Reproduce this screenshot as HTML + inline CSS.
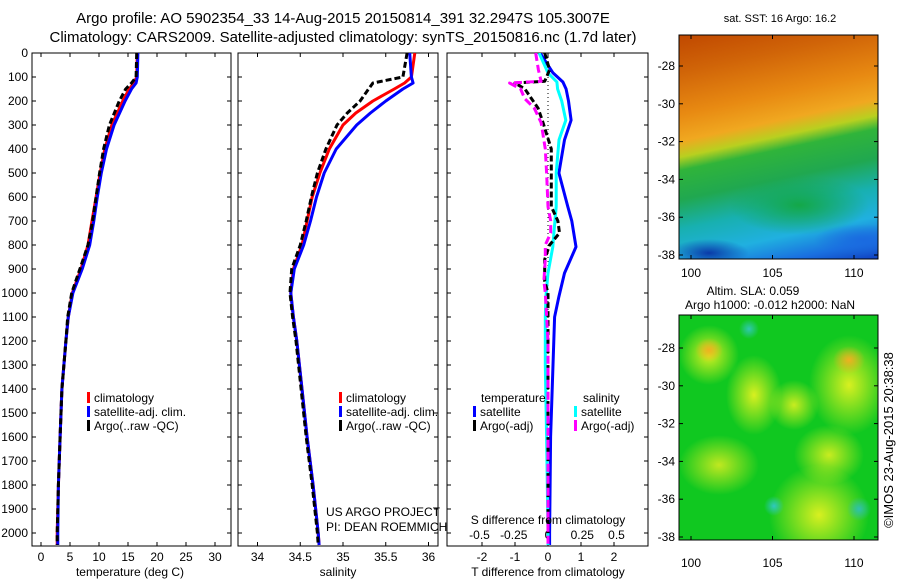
<!DOCTYPE html>
<html><head><meta charset="utf-8">
<style>
body{margin:0;background:#fff;}
#wrap{position:relative;width:900px;height:580px;overflow:hidden;font-family:"Liberation Sans",sans-serif;}
svg text{font-family:"Liberation Sans",sans-serif;fill:#000;}
.map{position:absolute;}
</style></head><body>
<div id="wrap">
<div class="map" style="left:679px;top:35px;width:199px;height:224px;background:
radial-gradient(ellipse 40px 14px at 30px 218px,#0a3aa8,rgba(10,58,168,0)),
radial-gradient(ellipse 50px 16px at 185px 205px,#1a6ae0,rgba(26,106,224,0)),
radial-gradient(ellipse 70px 30px at 120px 170px,#14a848,rgba(20,168,72,0)),
linear-gradient(168deg,#c04800 0%,#d06408 14%,#e88a12 30%,#f0a820 40%,#b8d020 46%,#30b43a 51%,#20a850 62%,#18b0b0 73%,#20b0e0 84%,#1a70e0 93%,#1040c0 100%);"></div>
<div class="map" style="left:679px;top:315px;width:199px;height:225px;background:
radial-gradient(circle 10px at 95px 259px,#30c8c0,rgba(48,200,192,0)),
radial-gradient(circle 12px at 60px 240px,#30c8c0,rgba(48,200,192,0)),
radial-gradient(circle 10px at 95px 191px,#30c8c0,rgba(48,200,192,0)),
radial-gradient(circle 12px at 180px 194px,#30c0b0,rgba(48,192,176,0)),
radial-gradient(circle 10px at 70px 14px,#30c8b0,rgba(48,200,176,0)),
radial-gradient(ellipse 10px 25px at 126px 252px,#f0b020,rgba(240,176,32,0) ),
radial-gradient(ellipse 14px 12px at 30px 35px,#f0b020,rgba(240,176,32,0)),
radial-gradient(ellipse 16px 14px at 170px 45px,#f0b020,rgba(240,176,32,0)),
radial-gradient(ellipse 30px 30px at 30px 40px,#d8f020,rgba(216,240,32,0)),
radial-gradient(ellipse 28px 40px at 75px 80px,#d8f020,rgba(216,240,32,0)),
radial-gradient(ellipse 40px 50px at 170px 70px,#d8f020,rgba(216,240,32,0)),
radial-gradient(ellipse 50px 50px at 140px 200px,#d8f020,rgba(216,240,32,0)),
radial-gradient(ellipse 40px 30px at 40px 150px,#c0e820,rgba(192,232,32,0)),
radial-gradient(ellipse 25px 25px at 115px 90px,#c8ec20,rgba(200,236,32,0)),
radial-gradient(ellipse 35px 30px at 150px 140px,#c8ec20,rgba(200,236,32,0)),
#10c820;"></div>
<svg id="chart" width="900" height="580" style="position:absolute;left:0;top:0"></svg>
</div>
<script>
// ---- data ----
const tDepth=[0,100,125,150,200,300,400,500,600,700,800,900,1000,1100,1200,1400,1600,1800,2000,2050];
const tClim=[16.6,16.5,16.0,15.2,14.1,12.2,11.0,10.2,9.5,8.8,8.1,6.9,5.4,4.7,4.3,3.6,3.3,3.0,2.8,2.8];
const tSat=[16.7,16.6,16.4,15.6,14.5,12.6,11.3,10.4,9.7,9.1,8.4,7.1,5.5,4.7,4.3,3.6,3.3,3.0,2.9,2.9];
const tArgo=[16.5,16.4,15.6,14.6,13.5,11.8,10.8,10.1,9.5,8.9,8.1,6.7,5.3,4.6,4.3,3.6,3.3,3.0,2.8,2.8];
const sDepth=[0,100,125,150,200,250,300,400,500,600,700,800,900,1000,1100,1200,1400,1600,1800,2000,2050];
const sClim=[35.84,35.8,35.72,35.6,35.35,35.15,35.0,34.84,34.73,34.64,34.58,34.52,34.42,34.39,34.42,34.46,34.52,34.58,34.65,34.71,34.72];
const sSat=[35.78,35.8,35.82,35.7,35.5,35.32,35.16,34.92,34.78,34.69,34.62,34.54,34.43,34.39,34.42,34.46,34.52,34.58,34.65,34.71,34.72];
const sArgo=[35.75,35.7,35.35,35.3,35.2,35.05,34.93,34.8,34.7,34.63,34.57,34.5,34.4,34.38,34.41,34.45,34.51,34.57,34.64,34.7,34.71];
const dDepth=[0,83,121,150,200,280,362,500,640,700,808,917,1015,1100,1300,1600,2000,2050];
const dTsat=[-0.24,0.15,0.45,0.55,0.62,0.7,0.5,0.33,0.6,0.72,0.85,0.5,0.33,0.2,0.15,0.08,0.05,0.05];
const dSsat=[-0.065,0,0.065,0.07,0.1,0.13,0.08,0.06,0.06,0.05,0.035,0,-0.015,-0.02,-0.02,-0.01,0,0];
const aDepth=[0,70,118,125,150,190,230,290,400,500,640,700,750,800,860,950,1000,1200,2050];
const dTargo=[-0.1,0.05,-0.1,-1.0,-0.7,-0.5,-0.3,-0.15,0.1,0.1,0.1,0.3,0.35,0.05,-0.1,-0.1,0,0,0];
const dSargo=[-0.09,-0.07,-0.05,-0.28,-0.2,-0.17,-0.1,-0.05,-0.02,-0.01,0,0.02,0.02,-0.02,-0.02,-0.03,-0.02,0,0];
const depthTicks=[0,100,200,300,400,500,600,700,800,900,1000,1100,1200,1300,1400,1500,1600,1700,1800,1900,2000];
const tTicks=[0,5,10,15,20,25,30];
const sTicks=[34,34.5,35,35.5,36];
const sTickLabels=["34","34.5","35","35.5","36"];
const dtTicks=[-2,-1,0,1,2];
const dsTicks=[-0.5,-0.25,0,0.25,0.5];
const lonTicks=[100,105,110];
const latTicks=[-28,-30,-32,-34,-36,-38];

const svg=document.getElementById('chart');
const NS='http://www.w3.org/2000/svg';
function mk(tag,attrs,parent){const e=document.createElementNS(NS,tag);for(const k in attrs)e.setAttribute(k,attrs[k]);(parent||svg).appendChild(e);return e;}
function txt(x,y,s,size,anchor,parent){const t=mk('text',{x:x,y:y,'font-size':size,'text-anchor':anchor||'middle'},parent);t.textContent=s;return t;}

const top0=53, PB=546;
const yD=d=>top0+d*0.24;
const panels=[{x0:32,x1:231},{x0:238,x1:438},{x0:447,x1:648}];
const xT=v=>41+v*5.8;
const xS=v=>343+(v-35)*85.5;
const xDT=v=>548+v*33;
const xDS=v=>548+v*137;

panels.forEach((p,i)=>{
  const r=mk('rect',{x:p.x0,y:top0,width:p.x1-p.x0,height:PB-top0,fill:'none',stroke:'#000','stroke-width':1});
  
  
  const cp=mk('clipPath',{id:'clip'+i});mk('rect',{x:p.x0,y:top0,width:p.x1-p.x0,height:PB-top0},cp);
  depthTicks.forEach(d=>{
    mk('line',{x1:p.x0,x2:p.x0+4,y1:yD(d),y2:yD(d),stroke:'#000'});
    mk('line',{x1:p.x1,x2:p.x1-4,y1:yD(d),y2:yD(d),stroke:'#000'});
  });
});
depthTicks.forEach(d=>{const t=txt(28,yD(d)+4,String(d),12,'end');});
tTicks.forEach(v=>{mk('line',{x1:xT(v),x2:xT(v),y1:PB,y2:PB-4,stroke:'#000'});mk('line',{x1:xT(v),x2:xT(v),y1:top0,y2:top0+4,stroke:'#000'});
  const t=txt(xT(v),561,String(v),12);});
sTicks.forEach((v,i)=>{mk('line',{x1:xS(v),x2:xS(v),y1:PB,y2:PB-4,stroke:'#000'});mk('line',{x1:xS(v),x2:xS(v),y1:top0,y2:top0+4,stroke:'#000'});
  const t=txt(xS(v),561,sTickLabels[i],12);});
dtTicks.forEach(v=>{mk('line',{x1:xDT(v),x2:xDT(v),y1:PB,y2:PB-4,stroke:'#000'});mk('line',{x1:xDT(v),x2:xDT(v),y1:top0,y2:top0+4,stroke:'#000'});
  const t=txt(xDT(v),561,String(v),12);});
dsTicks.forEach(v=>{const t=txt(xDS(v),539,String(v),12);});
const zl=mk('line',{x1:xDT(0),x2:xDT(0),y1:top0,y2:PB,stroke:'#000','stroke-dasharray':'1,3'});



function line(xs,ds,fx,color,dash,clip,name){
  const pts=xs.map((v,i)=>fx(v).toFixed(1)+','+yD(ds[i]).toFixed(1)).join(' ');
  const p=mk('polyline',{points:pts,fill:'none',stroke:color,'stroke-width':3,'stroke-linejoin':'round','clip-path':'url(#clip'+clip+')'});
  if(dash)p.setAttribute('stroke-dasharray',dash);
  
  
}
line(tClim,tDepth,xT,'#ff0000',null,0,'temperature-climatology-line');
line(tSat,tDepth,xT,'#0000ff',null,0,'temperature-satellite-line');
line(tArgo,tDepth,xT,'#000',"6,3",0,'temperature-argo-line');
line(sClim,sDepth,xS,'#ff0000',null,1,'salinity-climatology-line');
line(sSat,sDepth,xS,'#0000ff',null,1,'salinity-satellite-line');
line(sArgo,sDepth,xS,'#000',"6,3",1,'salinity-argo-line');
line(dTsat,dDepth,xDT,'#0000ff',null,2,'t-diff-satellite-line');
line(dSsat,dDepth,xDS,'#00ffff',null,2,'s-diff-satellite-line');
line(dTargo,aDepth,xDT,'#000',"6,3",2,'t-diff-argo-line');
line(dSargo,aDepth,xDS,'#ff00ff',"8,4",2,'s-diff-argo-line');

function leg(x,y,color,label,name){
  mk('rect',{x:x,y:y-10,width:3,height:11,fill:color});
  const t=txt(x+7,y,label,12,'start');
  
  
}
leg(87,402,'#ff0000','climatology','legend-climatology');
leg(87,416,'#0000ff','satellite-adj. clim.','legend-satellite');
leg(87,430,'#000','Argo(..raw -QC)','legend-argo');
leg(339,402,'#ff0000','climatology','legend-climatology-2');
leg(339,416,'#0000ff','satellite-adj. clim.','legend-satellite-2');
leg(339,430,'#000','Argo(..raw -QC)','legend-argo-2');
txt(481,402,'temperature',12,'start');
txt(583,402,'salinity',12,'start');
leg(473,416,'#0000ff','satellite','legend-t-satellite');
leg(473,430,'#000','Argo(-adj)','legend-t-argo');
leg(574,416,'#00ffff','satellite','legend-s-satellite');
leg(574,430,'#ff00ff','Argo(-adj)','legend-s-argo');

txt(326,516,'US ARGO PROJECT',12,'start');
txt(326,531,'PI: DEAN ROEMMICH',12,'start');
txt(548,524,'S difference from climatology',12);
txt(130,576,'temperature (deg C)',12);
txt(338,576,'salinity',12);
txt(548,576,'T difference from climatology',12);
const t1=txt(343,23,'Argo profile: AO 5902354_33 14-Aug-2015 20150814_391 32.2947S 105.3007E',15);


const t2=txt(343,42,'Climatology: CARS2009. Satellite-adjusted climatology: synTS_20150816.nc (1.7d later)',15);



const xLon=v=>691+(v-100)*16.3;
const maps=[{y0:35,y1:259,lat28:66,step:18.9,lab:277},{y0:315,y1:540,lat28:348,step:18.9,lab:567}];
maps.forEach((m,i)=>{
  const r=mk('rect',{x:679,y:m.y0,width:199,height:m.y1-m.y0,fill:'none',stroke:'#000'});
  
  
  latTicks.forEach(v=>{const y=m.lat28+(-28-v)*m.step;
    mk('line',{x1:679,x2:683,y1:y,y2:y,stroke:'#000'});mk('line',{x1:878,x2:874,y1:y,y2:y,stroke:'#000'});
    txt(675,y+4,String(v),12,'end');});
  lonTicks.forEach(v=>{mk('line',{x1:xLon(v),x2:xLon(v),y1:m.y1,y2:m.y1-4,stroke:'#000'});mk('line',{x1:xLon(v),x2:xLon(v),y1:m.y0,y2:m.y0+4,stroke:'#000'});
    txt(xLon(v),m.lab,String(v),12);});
});
txt(780,22,'sat. SST: 16 Argo: 16.2',11);
txt(753,295,'Altim. SLA: 0.059',12);
txt(770,309,'Argo h1000: -0.012 h2000: NaN',12);
const cr=txt(0,0,'©IMOS 23-Aug-2015 20:38:38',13);
cr.setAttribute('transform','translate(893,440) rotate(-90)');


</script>
</body></html>
